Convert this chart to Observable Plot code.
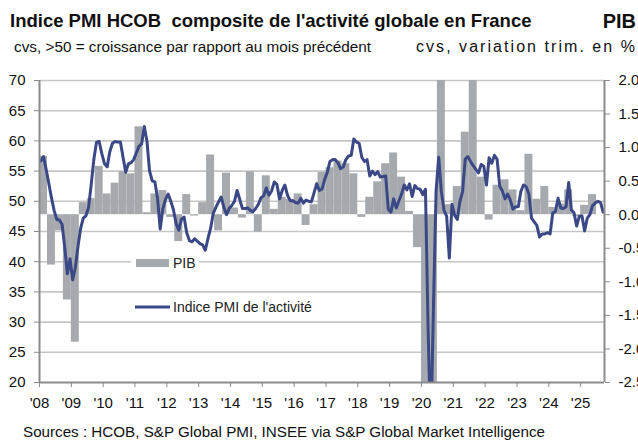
<!DOCTYPE html>
<html><head><meta charset="utf-8">
<script src="https://cdn.jsdelivr.net/npm/d3@7"></script>
<script src="https://cdn.jsdelivr.net/npm/@observablehq/plot@0.6"></script>
<style>
html,body{margin:0;padding:0;background:#fff;}
#chart{position:relative;width:638px;height:440px;overflow:hidden;}
</style></head><body><div id="chart"></div>
<script>
// ---------- data ----------
const startYear = 2008;
// Monthly HCOB composite PMI (France), Jan 2008 -> Sep 2025
const pmiValues = [
  56.7,57.4,55.3,53.0,50.6,48.5,47.0,46.9,46.2,42.5,38.0,40.5, // 2008
  37.0,39.0,42.5,45.5,47.2,47.6,49.0,52.8,57.0,59.8,59.9,57.9, // 2009
  56.2,55.7,58.2,59.6,59.9,59.8,59.8,57.3,54.8,56.2,56.4,56.9, // 2010
  58.0,59.1,59.5,62.4,60.0,55.0,53.4,53.2,50.5,45.4,48.8,50.3, // 2011
  51.2,50.0,48.6,46.3,45.2,47.0,47.4,44.8,43.5,43.3,43.8,43.4, // 2012
  43.0,42.8,41.9,43.8,45.5,48.0,49.0,49.9,50.7,49.0,47.8,48.8, // 2013
  49.3,50.0,51.8,50.3,48.8,48.8,48.9,48.5,48.3,48.8,49.5,50.6, // 2014
  50.9,52.2,51.0,51.7,53.2,52.8,50.4,51.8,52.7,51.0,50.1,50.1, // 2015
  49.8,49.7,50.5,49.7,50.2,50.0,49.9,51.4,52.9,51.8,52.0,53.6, // 2016
  54.8,56.6,56.9,56.9,56.4,55.4,55.7,56.9,57.5,57.6,60.3,59.8, // 2017
  59.6,57.3,56.6,56.9,54.2,55.0,54.4,54.9,54.0,54.1,54.2,48.7, // 2018
  48.2,50.4,48.9,50.1,51.2,52.7,51.9,52.9,50.8,52.6,52.1,52.0, // 2019
  51.1,52.0,28.9,11.1,32.1,51.7,57.3,51.6,48.5,47.5,40.6,49.5, // 2020
  47.7,47.0,50.0,51.6,57.0,57.4,56.6,55.9,55.3,54.7,56.1,55.8, // 2021
  52.7,57.2,56.3,57.6,57.0,52.5,51.7,50.4,51.2,50.2,48.7,49.1, // 2022
  49.1,51.7,52.7,52.4,51.2,47.2,46.6,46.0,44.1,44.6,44.6,44.8, // 2023
  44.6,48.1,48.3,50.5,48.9,48.8,49.1,53.1,48.6,48.1,45.9,47.5, // 2024
  47.6,45.1,47.2,47.8,49.3,49.7,50.0,49.8,48.2                 // 2025
];
// Quarterly GDP, % q/q (PIB), 2008Q1 -> 2025Q2
const gdpValues = [
  0.87,-0.75,-0.24,-1.27,   // 2008
  -1.90,0.18,0.24,0.72,     // 2009
  0.31,0.47,0.64,0.61,      // 2010
  1.31,0.03,0.31,0.36,      // 2011
  -0.04,-0.40,0.30,-0.02,   // 2012
  0.18,0.89,-0.24,0.62,     // 2013
  0.10,-0.05,0.64,-0.26,    // 2014
  0.58,0.08,0.26,0.23,      // 2015
  0.31,-0.16,0.15,0.63,     // 2016
  0.70,0.80,0.76,0.61,      // 2017
  -0.04,0.26,0.49,0.76,     // 2018
  0.92,0.56,0.05,-0.49,     // 2019
  -5.5,-13.5,18.5,0.15,     // 2020
  0.42,1.23,3.0,0.56,       // 2021
  -0.08,0.44,0.52,0.37,     // 2022
  0.06,0.90,0.23,0.42,      // 2023
  0.11,0.16,0.37,-0.03,     // 2024
  0.14,0.30                 // 2025
];
const leftTicks = [20,25,30,35,40,45,50,55,60,65,70];
const rightTicks = [2.0,1.5,1.0,0.5,0.0,-0.5,-1.0,-1.5,-2.0,-2.5];
const yearTicks = d3.range(2008, 2026);
const xEnd = 2025.75;

// ---------- scales helpers ----------
const gdpMin = -2.5, gdpMax = 2.0, pmiMin = 20, pmiMax = 70;
const gdpToPmi = g => pmiMin + (g - gdpMin) * (pmiMax - pmiMin) / (gdpMax - gdpMin);

const pmiData = pmiValues.map((v, i) => ({t: startYear + (i + 0.5) / 12, v}));
const gdpData = gdpValues.map((g, i) => ({
  x1: startYear + i / 4, x2: startYear + (i + 1) / 4,
  y1: gdpToPmi(0), y2: gdpToPmi(g)
}));

const font = "'Liberation Sans', Arial, sans-serif";
const axisGrey = "#8c8c8c";
const barGrey = "#a6aaae";
const lineBlue = "#3a4886";

const plot = Plot.plot({
  width: 638, height: 440,
  marginLeft: 39, marginRight: 34, marginTop: 80, marginBottom: 58,
  style: {fontFamily: font, fontSize: "15px", color: "#111", background: "#fff", overflow: "hidden"},
  x: {domain: [startYear, xEnd]},
  y: {domain: [pmiMin, pmiMax]},
  marks: [
    Plot.gridY(leftTicks.slice(1), {stroke: "#c6c6c6", strokeOpacity: 1, strokeWidth: 1.6}),
    Plot.rect(gdpData, {x1: "x1", x2: "x2", y1: "y1", y2: "y2", fill: barGrey, clip: true}),
    Plot.line(pmiData, {x: "t", y: "v", stroke: lineBlue, strokeWidth: 3, strokeLinejoin: "round", clip: true}),
    Plot.ruleX([startYear, xEnd], {stroke: axisGrey, strokeWidth: 2}),
    Plot.ruleY([pmiMin], {stroke: axisGrey, strokeWidth: 2}),
    Plot.axisY(leftTicks, {anchor: "left", tickSize: 5, tickPadding: 9, stroke: axisGrey, fill: "#111", fontSize: 15, label: null}),
    Plot.axisY(rightTicks.map(gdpToPmi), {anchor: "right", tickSize: 5, tickPadding: 9, stroke: axisGrey, fill: "#111", fontSize: 15, label: null,
      tickFormat: v => d3.format(".1f")(gdpMin + (v - pmiMin) * (gdpMax - gdpMin) / (pmiMax - pmiMin)).replace("−", "-")}),
    Plot.axisX(yearTicks, {anchor: "bottom", tickSize: 5, tickPadding: 10, stroke: axisGrey, fill: "#111", fontSize: 15, label: null,
      tickFormat: d => "'" + String(d).slice(2)})
  ]
});
document.getElementById("chart").appendChild(plot);

// ---------- titles, legend, source ----------
const svg = d3.select(plot);
function txt(x, y, s, size, opts = {}) {
  const t = svg.append("text").attr("x", x).attr("y", y).text(s)
    .attr("font-family", font).attr("font-size", size)
    .attr("font-weight", opts.bold ? "bold" : "normal")
    .attr("text-anchor", opts.anchor || "start")
    .attr("fill", opts.fill || "#111");
  if (opts.length) t.attr("textLength", opts.length).attr("lengthAdjust", "spacing");
  return t;
}
txt(10, 27, "Indice PMI HCOB  composite de l'activité globale en France", 18.5, {bold: true});
txt(636, 28, "PIB", 20, {bold: true, anchor: "end"});
txt(14, 52, "cvs, >50 = croissance par rapport au mois précédent", 15.3);
txt(416, 52, "cvs, variation trim. en %", 16, {length: 219});
txt(23, 437, "Sources : HCOB, S&P Global PMI, INSEE via S&P Global Market Intelligence", 15.2);

// legend
svg.append("rect").attr("x", 131).attr("y", 254).attr("width", 68).attr("height", 17).attr("fill", "#fff");
svg.append("rect").attr("x", 136).attr("y", 259).attr("width", 33).attr("height", 8).attr("fill", barGrey);
txt(173, 268, "PIB", 14, {fill: "#222"});
svg.append("line").attr("x1", 135).attr("x2", 170).attr("y1", 307).attr("y2", 307)
  .attr("stroke", lineBlue).attr("stroke-width", 3);
txt(173, 312, "Indice PMI de l'activité", 14, {fill: "#222"});
</script></body></html>
